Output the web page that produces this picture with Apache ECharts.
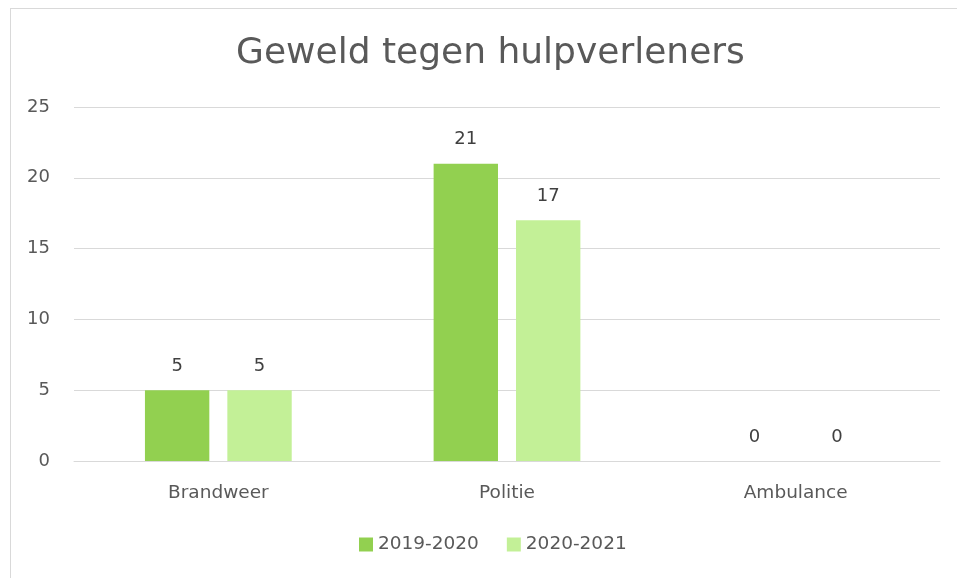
<!DOCTYPE html>
<html>
<head>
<meta charset="utf-8">
<script src="https://cdn.jsdelivr.net/npm/echarts@6/dist/echarts.min.js"></script>
<style>
html,body{margin:0;padding:0;background:#fff;}
#frame{position:absolute;left:10px;top:8px;width:960px;height:600px;border:1px solid #d9d9d9;box-sizing:border-box;}
#chart{position:absolute;left:0;top:0;width:957px;height:578px;}
</style>
</head>
<body>
<div id="frame"></div>
<div id="chart"></div>
<script>
var categories = ['Brandweer', 'Politie', 'Ambulance'];
var series2019 = [5, 21, 0];
var series2020 = [5, 17, 0];
var yTicks = [0, 5, 10, 15, 20, 25];

var font = 'DejaVu Sans';
var chart = echarts.init(document.getElementById('chart'), null, {renderer: 'canvas'});
chart.setOption({
  animation: false,
  title: {
    text: 'Geweld tegen hulpverleners',
    left: 231, top: 31,
    textStyle: {fontFamily: font, fontSize: 36, fontWeight: 'normal', color: '#595959'}
  },
  legend: {
    bottom: 19, left: 354,
    itemWidth: 14, itemHeight: 14, itemGap: 28,
    icon: 'rect',
    textStyle: {fontFamily: font, fontSize: 18.5, color: '#595959'},
    data: ['2019-2020', '2020-2021']
  },
  grid: {left: 74, right: 17, top: 107, bottom: 117, containLabel: false},
  xAxis: {
    type: 'category', data: categories,
    axisLine: {show: true, lineStyle: {color: '#d9d9d9', width: 1}},
    axisTick: {show: false},
    axisLabel: {fontFamily: font, fontSize: 18.5, color: '#595959', margin: 23}
  },
  yAxis: {
    type: 'value', min: yTicks[0], max: yTicks[yTicks.length - 1], interval: 5,
    axisLine: {show: false}, axisTick: {show: false},
    splitLine: {lineStyle: {color: '#d9d9d9', width: 1}},
    axisLabel: {fontFamily: font, fontSize: 18, color: '#595959', margin: 24}
  },
  series: [
    {
      name: '2019-2020', type: 'bar', data: series2019,
      barWidth: '22.3%', barGap: '28%',
      itemStyle: {color: '#92D050'},
      label: {show: true, position: 'top', distance: 15, fontFamily: font, fontSize: 18, color: '#404040'}
    },
    {
      name: '2020-2021', type: 'bar', data: series2020,
      barWidth: '22.3%', barGap: '28%',
      itemStyle: {color: '#C3F097'},
      label: {show: true, position: 'top', distance: 15, fontFamily: font, fontSize: 18, color: '#404040'}
    }
  ]
});
</script>
</body>
</html>
